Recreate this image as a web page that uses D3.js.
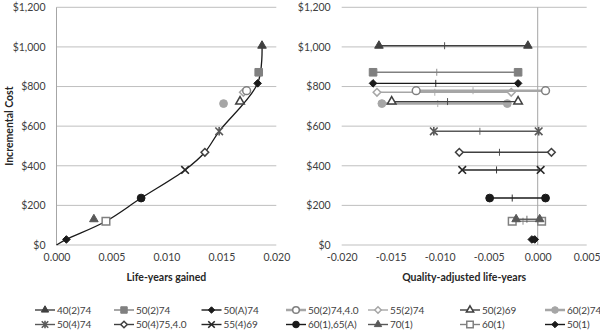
<!DOCTYPE html>
<html><head><meta charset="utf-8">
<script src="https://cdn.jsdelivr.net/npm/d3@7"></script>
<style>
html,body{margin:0;padding:0;background:#fff;}
svg{display:block;font-family:Lato, "Open Sans", sans-serif;}
</style></head>
<body>
<svg id="c" width="600" height="333"></svg>
<script>
// ---- data ----
const strategies = ["40(2)74","50(2)74","50(A)74","50(2)74,4.0","55(2)74","50(2)69","60(2)74",
                    "50(4)74","50(4)75,4.0","55(4)69","60(1),65(A)","70(1)","60(1)","50(1)"];
const lifeYears = [0.0187,0.0184,0.0183,0.0173,0.0170,0.0167,0.0152,0.0148,0.0135,0.0117,0.0077,0.0034,0.0045,0.0009];
const incCost   = [1006,872,816,779,771,724,714,574,468,379,237,130,120,28];
const qalyLow   = [-0.0162,-0.0168,-0.0168,-0.0124,-0.0164,-0.0149,-0.0159,-0.0106,-0.0080,-0.0077,-0.0049,-0.0022,-0.0026,-0.0006];
const qalyMid   = [-0.0095,-0.0103,-0.0104,-0.0066,-0.0105,-0.0092,-0.0102,-0.0059,-0.0039,-0.0042,-0.0026,-0.0011,-0.0015,-0.0004];
const qalyHigh  = [-0.0010,-0.0020,-0.0020,0.0008,-0.0027,-0.0020,-0.0031,0.0001,0.0014,0.0003,0.0008,0.0002,0.0004,-0.0003];
const frontier  = ["50(1)","60(1)","60(1),65(A)","55(4)69","50(4)75,4.0","50(4)74","50(A)74","40(2)74"];
const yTicks = [0,200,400,600,800,1000,1200];
const xTicksLeft = [0,0.005,0.010,0.015,0.020];
const xTicksRight = [-0.020,-0.015,-0.010,-0.005,0,0.005];

// ---- styles ----
const styles = {
  "40(2)74":     {m:"triangle", c:"#404040", fill:true},
  "50(2)74":     {m:"square",   c:"#808080", fill:true},
  "50(A)74":     {m:"diamond",  c:"#1a1a1a", fill:true},
  "50(2)74,4.0": {m:"circle",   c:"#7f7f7f", fill:false, lw:2.5, lc:"#a6a6a6"},
  "55(2)74":     {m:"diamond",  c:"#a6a6a6", fill:false},
  "50(2)69":     {m:"triangle", c:"#404040", fill:false},
  "60(2)74":     {m:"circle",   c:"#a6a6a6", fill:true, lw:2.5},
  "50(4)74":     {m:"star",     c:"#595959", fill:false},
  "50(4)75,4.0": {m:"diamond",  c:"#404040", fill:false},
  "55(4)69":     {m:"x",        c:"#262626", fill:false},
  "60(1),65(A)": {m:"circle",   c:"#1a1a1a", fill:true},
  "70(1)":       {m:"triangle", c:"#595959", fill:true},
  "60(1)":       {m:"square",   c:"#808080", fill:false},
  "50(1)":       {m:"diamond",  c:"#1a1a1a", fill:true}
};

const svg = d3.select("#c");
const fontSize = 10.5;
const legendFont = 10;
const yScale = d3.scaleLinear().domain([0,1200]).range([245,7.3]);
const xL = d3.scaleLinear().domain([0,0.020]).range([56.5,276.3]);
const xR = d3.scaleLinear().domain([-0.020,0.005]).range([341.7,586.7]);

function markerPath(type, k){
  k = k || 1;
  switch(type){
    case "triangle": return d3.symbol(d3.symbolTriangle, 32*k*k)();
    case "square": return `M${-3.8*k},${-3.8*k}H${3.8*k}V${3.8*k}H${-3.8*k}Z`;
    case "diamond": return `M0,${-3.8*k}L${3.8*k},0L0,${3.8*k}L${-3.8*k},0Z`;
    case "circle": return d3.symbol(d3.symbolCircle, 48*k*k)();
    case "x": return `M${-3.8*k},${-3.8*k}L${3.8*k},${3.8*k}M${-3.8*k},${3.8*k}L${3.8*k},${-3.8*k}`;
    case "star": return `M${-3.8*k},${-3.8*k}L${3.8*k},${3.8*k}M${-3.8*k},${3.8*k}L${3.8*k},${-3.8*k}M0,${-4.3*k}V${4.3*k}`;
  }
}
function drawMarker(g, name, x, y, k){
  const s = styles[name];
  const lineMark = (s.m==="x"||s.m==="star");
  g.append("path").attr("d", markerPath(s.m, k))
    .attr("transform", `translate(${x},${y})`)
    .attr("fill", lineMark ? "none" : (s.fill ? s.c : "#fff"))
    .attr("stroke", s.c)
    .attr("stroke-width", lineMark ? 1.6 : (s.fill?1:1.5));
}

function drawPanel(xs, xTicks, fmt, zeroAxis){
  const g = svg.append("g");
  g.selectAll(".grid").data(yTicks).enter().append("line")
    .attr("x1", xs.range()[0]).attr("x2", xs.range()[1])
    .attr("y1", d=>yScale(d)).attr("y2", d=>yScale(d))
    .attr("stroke","#bfbfbf").attr("stroke-width",1);
  g.append("line").attr("x1", xs(zeroAxis)).attr("x2", xs(zeroAxis))
    .attr("y1", yScale(0)).attr("y2", yScale(1200))
    .attr("stroke","#a6a6a6").attr("stroke-width",1);
  const yAx = d3.axisLeft(yScale).tickValues(yTicks).tickSize(0).tickPadding(0)
      .tickFormat(d=>"$"+d3.format(",")(d));
  const ya = g.append("g").attr("transform", `translate(${xs.range()[0]-11},0)`).call(yAx);
  ya.select(".domain").remove();
  ya.selectAll("text").attr("font-size",fontSize).attr("fill","#404040").attr("font-family","Lato");
  const xAx = d3.axisBottom(xs).tickValues(xTicks).tickSize(0).tickPadding(0).tickFormat(fmt);
  const xa = g.append("g").attr("transform", `translate(0,254)`).call(xAx);
  xa.select(".domain").remove();
  xa.selectAll("text").attr("font-size",fontSize).attr("fill","#404040").attr("font-family","Lato");
  return g;
}
const fmt3 = d => d3.format(".3f")(d).replace("−","-");

// Left panel
const gL = drawPanel(xL, xTicksLeft, fmt3, 0);
const idx = n => strategies.indexOf(n);
const frontPts = [[0,0]].concat(frontier.map(n=>[lifeYears[idx(n)], incCost[idx(n)]]));
gL.append("path").datum(frontPts)
  .attr("d", d3.line().x(d=>xL(d[0])).y(d=>yScale(d[1])).curve(d3.curveCatmullRom.alpha(0.5)))
  .attr("fill","none").attr("stroke","#1a1a1a").attr("stroke-width",1.3);
strategies.slice().reverse().forEach(n=>{
  const i = idx(n);
  drawMarker(gL, n, xL(lifeYears[i]), yScale(incCost[i]));
});
gL.append("text").attr("x",(xL.range()[0]+xL.range()[1])/2).attr("y",281)
  .attr("text-anchor","middle").attr("font-size",fontSize).attr("font-weight","bold")
  .attr("fill","#262626").text("Life-years gained");
gL.append("text").attr("transform",`translate(12.5,${yScale(600)}) rotate(-90)`)
  .attr("text-anchor","middle").attr("font-size",fontSize).attr("font-weight","bold")
  .attr("fill","#262626").text("Incremental Cost");

// Right panel
const gR = drawPanel(xR, xTicksRight, fmt3, 0);
strategies.slice().reverse().forEach(n=>{
  const i = idx(n), s = styles[n];
  const y = yScale(incCost[i]);
  const lc = s.lc || s.c;
  gR.append("line").attr("x1", xR(qalyLow[i])).attr("x2", xR(qalyHigh[i]))
    .attr("y1", y).attr("y2", y).attr("stroke", lc).attr("stroke-width", s.lw || 1.4);
  gR.append("line").attr("x1", xR(qalyMid[i])).attr("x2", xR(qalyMid[i]))
    .attr("y1", y-3.5).attr("y2", y+3.5).attr("stroke", lc).attr("stroke-width", 0.9);
  drawMarker(gR, n, xR(qalyLow[i]), y);
  drawMarker(gR, n, xR(qalyHigh[i]), y);
});
gR.append("text").attr("x",(xR.range()[0]+xR.range()[1])/2).attr("y",281)
  .attr("text-anchor","middle").attr("font-size",fontSize).attr("font-weight","bold")
  .attr("fill","#262626").text("Quality-adjusted life-years");

// Legend
const colX = [35,114,201.5,286,368,460,545];
const rowY = [310,324.5];
const lg = svg.append("g");
strategies.forEach((n,i)=>{
  const r = Math.floor(i/7), c = i%7;
  const x = colX[c], y = rowY[r], s = styles[n];
  lg.append("line").attr("x1",x).attr("x2",x+20).attr("y1",y).attr("y2",y)
    .attr("stroke", s.lc||s.c).attr("stroke-width", s.lw||1.4);
  drawMarker(lg, n, x+10, y, 0.85);
  lg.append("text").attr("x",x+22).attr("y",y).attr("dy","0.35em")
    .attr("font-size",legendFont).attr("fill","#404040").text(n);
});
</script>
</body></html>
